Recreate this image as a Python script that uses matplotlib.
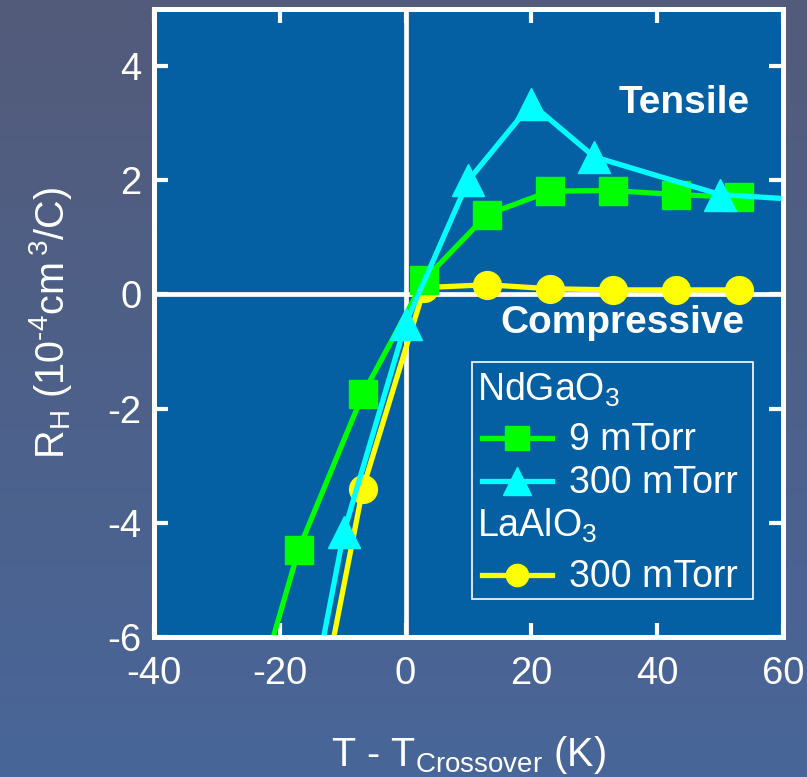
"""
Hall coefficient vs. T - T_crossover for films on NdGaO3 and LaAlO3
"""

import numpy as np
import matplotlib.pyplot as plt
from matplotlib.patches import Rectangle

plt.rcParams['font.family'] = ['Liberation Sans', 'DejaVu Sans']
plt.rcParams['mathtext.default'] = 'regular'
plt.rcParams['axes.unicode_minus'] = False


# ======================================================
# DATA
# ======================================================

# NdGaO3, 9 mTorr
ngo9_t = [-22.5, -17.0, -6.8, 3.0, 13.0, 23.0, 33.0, 43.0, 53.0]
ngo9_rh = [-6.56, -4.47, -1.75, 0.26, 1.40, 1.81, 1.82, 1.75, 1.70]

# NdGaO3, 300 mTorr
ngo300_t = [-14.0, -9.8, 0.0, 10.0, 20.0, 30.0, 50.0, 65.0]
ngo300_rh = [-6.56, -4.16, -0.51, 2.00, 3.34, 2.41, 1.75, 1.645]

# LaAlO3, 300 mTorr
lao300_t = [-12.5, -6.8, 3.0, 13.0, 23.0, 33.0, 43.0, 53.0]
lao300_rh = [-6.62, -3.40, 0.12, 0.17, 0.10, 0.08, 0.08, 0.08]

x_ticks = [-40, -20, 0, 20, 40, 60]
y_ticks = [-6, -4, -2, 0, 2, 4]

GREEN = '#00ff00'
CYAN = '#00ffff'
YELLOW = '#ffff00'
WHITE = 'white'


# ======================================================
# FIGURE + BACKGROUND
# ======================================================

fig = plt.figure(figsize=(8.07, 7.77), dpi=100)

bg = fig.add_axes([0, 0, 1, 1], zorder=-10)
top = np.array([0.325, 0.357, 0.478])
bot = np.array([0.282, 0.400, 0.600])
f = np.linspace(0, 1, 256)[:, None]
grad = top[None, :] * (1 - f) + bot[None, :] * f
bg.imshow(grad[:, None, :].repeat(4, axis=1), aspect='auto', extent=[0, 1, 0, 1])
bg.axis('off')

ax = fig.add_axes([0.1908, 0.1802, 0.7794, 0.8082])
ax.set_facecolor('#045fa3')


# ======================================================
# CURVES
# ======================================================

ax.axhline(0, color=WHITE, lw=3.4, zorder=1)
ax.axvline(0, color=WHITE, lw=3.4, zorder=1)

ax.plot(lao300_t, lao300_rh, color=YELLOW, lw=3.8, marker='o', ms=20, zorder=3)
ax.plot(ngo9_t, ngo9_rh, color=GREEN, lw=3.8, marker='s', ms=20, zorder=4)
ax.plot(ngo300_t, ngo300_rh, color=CYAN, lw=3.8, marker='^', ms=23, zorder=5)

ax.set_xlim(-40, 60)
ax.set_ylim(-6, 5)
ax.set_xticks(x_ticks)
ax.set_yticks(y_ticks)

ax.tick_params(direction='in', length=10, width=3, color=WHITE,
               top=True, right=True, labelcolor=WHITE, labelsize=27.5)
ax.tick_params(axis='x', pad=14)
ax.tick_params(axis='y', pad=9)
for s in ax.spines.values():
    s.set_color(WHITE)
    s.set_linewidth(3.6)
    s.set_zorder(6)

ax.set_xlabel('T - T$_{Crossover}$ (K)', color=WHITE, fontsize=28.5, labelpad=30)
ax.set_ylabel('R$_H$ (10$^{\u20104}$cm$^{\u20093}$/C)', color=WHITE,
              fontsize=28.5, labelpad=24)

ax.text(0.9475, 0.834, 'Tensile', transform=ax.transAxes, ha='right',
        va='baseline', color=WHITE, fontsize=28, fontweight='bold')
ax.text(0.9396, 0.484, 'Compressive', transform=ax.transAxes, ha='right',
        va='baseline', color=WHITE, fontsize=28, fontweight='bold')


# ======================================================
# LEGEND (two substrate headings)
# ======================================================

ax.add_patch(Rectangle((0.506, 0.0605), 0.446, 0.3775, transform=ax.transAxes,
                       fill=False, ec=WHITE, lw=1.2, zorder=7))

rows = [
    (0.317, 0.298, GREEN, 's', 17, '9 mTorr'),
    (0.249, 0.229, CYAN, '^', 20, '300 mTorr'),
    (0.0987, 0.0796, YELLOW, 'o', 16, '300 mTorr'),
]
for y, yb, c, m, ms, label in rows:
    ax.plot([0.5215, 0.6328], [y, y], transform=ax.transAxes, color=c,
            lw=3.8, clip_on=False, zorder=8)
    ax.plot([0.577], [y], transform=ax.transAxes, color=c, marker=m, ms=ms,
            clip_on=False, zorder=8)
    ax.text(0.660, yb, label, transform=ax.transAxes, color=WHITE,
            fontsize=27, va='baseline', zorder=8)

ax.text(0.5135, 0.377, 'NdGaO$_3$', transform=ax.transAxes, color=WHITE,
        fontsize=27, va='baseline', zorder=8)
ax.text(0.5135, 0.159, 'LaAlO$_3$', transform=ax.transAxes, color=WHITE,
        fontsize=27, va='baseline', zorder=8)

fig.savefig('out.png', dpi=100)
plt.close(fig)
